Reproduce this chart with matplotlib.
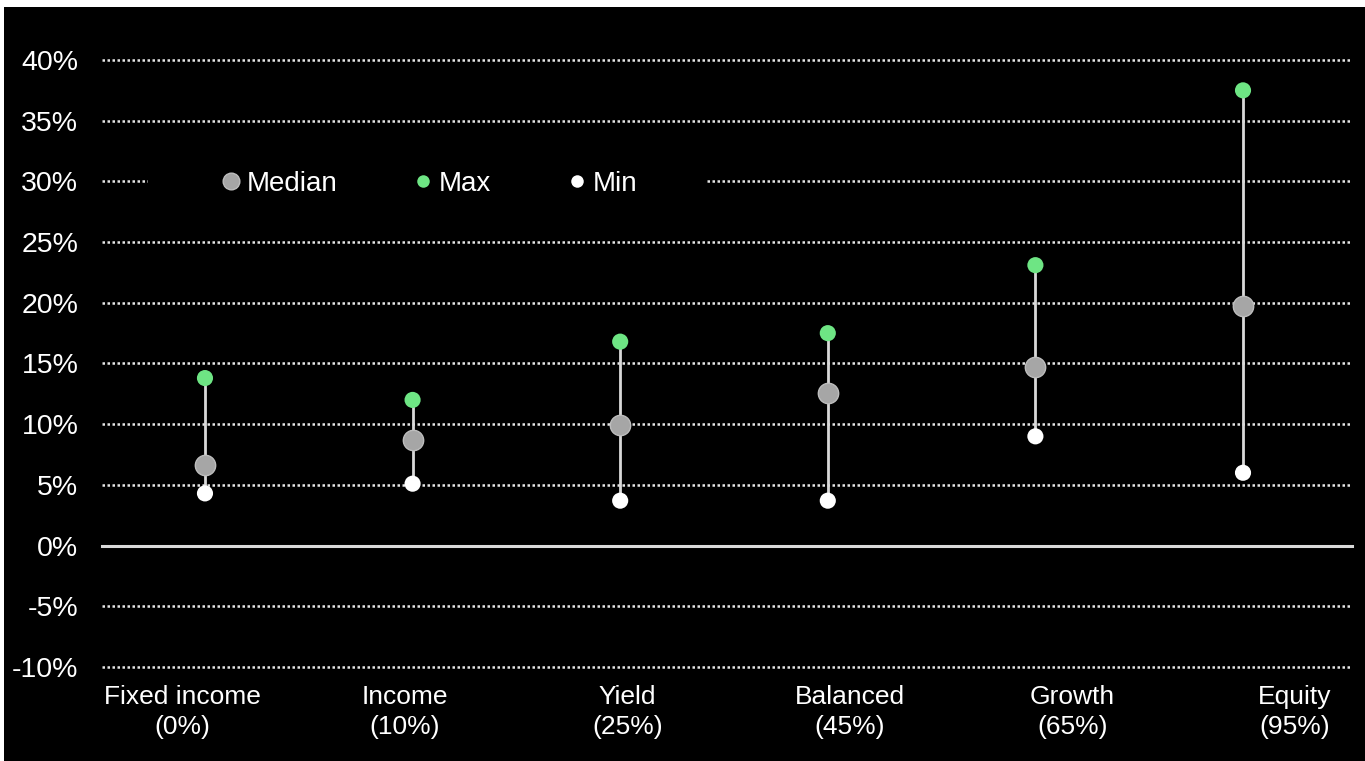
import numpy as np
import matplotlib.pyplot as plt
from matplotlib.patches import Rectangle
from matplotlib.lines import Line2D

# Portfolio return ranges (%)
categories = ["Fixed income\n(0%)", "Income\n(10%)", "Yield\n(25%)",
              "Balanced\n(45%)", "Growth\n(65%)", "Equity\n(95%)"]
median = [6.6, 8.7, 9.9, 12.6, 14.7, 19.7]
maxv = [13.8, 12.0, 16.8, 17.5, 23.1, 37.5]
minv = [4.3, 5.1, 3.7, 3.7, 9.0, 6.0]
yticks = [-10, -5, 0, 5, 10, 15, 20, 25, 30, 35, 40]

plt.rcParams['font.family'] = ['Liberation Sans', 'DejaVu Sans']

fig = plt.figure(figsize=(13.65, 7.61), dpi=100, facecolor='white')
fig.patches.append(Rectangle((4 / 1365, 0), 1, 1 - 7 / 761, transform=fig.transFigure,
                             facecolor='black', edgecolor='none', zorder=-10))

ax = fig.add_axes([102 / 1365, 1 - 667 / 761, 1250 / 1365, 607 / 761])
ax.set_facecolor('black')
ax.patch.set_alpha(0)

x = np.arange(len(categories))
ax.set_xlim(-0.496, 5.525)
ax.set_ylim(-10, 40)

for t in yticks:
    if t == 0:
        ax.axhline(t, color='#d9d9d9', lw=2.2, zorder=1, clip_on=False)
    else:
        ax.axhline(t, color='#e6e6e6', lw=1.8, ls=(0, (1, 1)), zorder=1, clip_on=False)

# black band behind the legend hides the gridline there
ax.add_patch(Rectangle((0.037, 0.785), 0.446, 0.03, transform=ax.transAxes,
                       facecolor='black', edgecolor='none', zorder=1.5))

ax.vlines(x, minv, maxv, color='#d9d9d9', lw=2, zorder=2)
ax.scatter(x, maxv, s=135, color='#6ee584', edgecolor='none', zorder=3)
ax.scatter(x, minv, s=135, color='white', edgecolor='none', zorder=3)
ax.scatter(x, median, s=215, color='#a6a6a6', edgecolor='#bdbdbd', lw=1, zorder=4)

for s in ax.spines.values():
    s.set_visible(False)

ax.set_yticks(yticks)
ax.set_yticklabels([f"{t}%" for t in yticks])
ax.tick_params(axis='y', length=0, pad=17, labelsize=20.5, labelcolor='white')

# category labels sit slightly offset from the points, as in the original
label_pos = x * 1.072 - 0.11
ax.set_xticks(label_pos)
ax.set_xticklabels(categories, linespacing=1.3)
ax.tick_params(axis='x', length=0, pad=13, labelsize=19, labelcolor='white')

handles = [
    Line2D([], [], marker='o', ls='none', markersize=12, markerfacecolor='#a6a6a6',
           markeredgecolor='#bdbdbd'),
    Line2D([], [], marker='o', ls='none', markersize=9, markerfacecolor='#6ee584',
           markeredgecolor='none'),
    Line2D([], [], marker='o', ls='none', markersize=9, markerfacecolor='white',
           markeredgecolor='none'),
]
leg = ax.legend(handles, ['Median', 'Max', 'Min'], loc='center', bbox_to_anchor=(0.2613, 0.796),
                ncol=3, frameon=False, fontsize=20, labelcolor='white',
                handlelength=0.8, handletextpad=0.15, columnspacing=2.7, borderaxespad=0)
leg.set_zorder(5)

fig.savefig('out.png', dpi=100, facecolor=fig.get_facecolor())
